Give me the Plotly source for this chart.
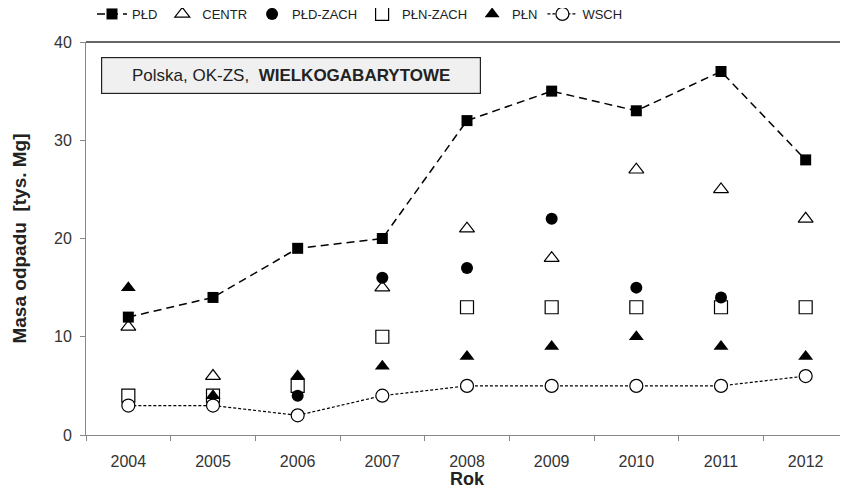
import plotly.graph_objects as go

years = ["2004", "2005", "2006", "2007", "2008", "2009", "2010", "2011", "2012"]
pld = [12, 14, 19, 20, 32, 35, 33, 37, 28]
centr = [11, 6, None, 15, 21, 18, 27, 25, 22]
pld_zach = [None, None, 4, 16, 17, 22, 15, 14, None]
pln_zach = [4, 4, 5, 10, 13, 13, 13, 13, 13]
pln = [15, 4, 6, 7, 8, 9, 10, 9, 8]
wsch = [3, 3, 2, 4, 5, 5, 5, 5, 6]

# page body has an 8px margin, so the figure is drawn 8px right/down
W, H = 840, 481
L, R, T, B = 78, 0, 34, 54

fig = go.Figure()
fig.add_trace(go.Scatter(x=years, y=pld, name="PŁD", mode="lines+markers",
                         line=dict(color="black", width=1.5, dash="8px,5px"),
                         marker=dict(symbol="square", size=11, color="black")))
fig.add_trace(go.Scatter(x=years, y=centr, name="CENTR", mode="markers",
                         marker=dict(symbol="triangle-up-open", size=13, color="black",
                                     line=dict(width=1.2))))
fig.add_trace(go.Scatter(x=years, y=pld_zach, name="PŁD-ZACH", mode="markers",
                         marker=dict(symbol="circle", size=12, color="black")))
fig.add_trace(go.Scatter(x=years, y=pln_zach, name="PŁN-ZACH", mode="markers",
                         marker=dict(symbol="square-open", size=13, color="black",
                                     line=dict(width=1.2))))
fig.add_trace(go.Scatter(x=years, y=pln, name="PŁN", mode="markers",
                         marker=dict(symbol="triangle-up", size=13, color="black")))
fig.add_trace(go.Scatter(x=years, y=wsch, name="WSCH", mode="lines+markers",
                         line=dict(color="black", width=1.2, dash="3px,2px"),
                         marker=dict(symbol="circle", size=13, color="white",
                                     line=dict(color="black", width=1.2))))

font_main = "Liberation Sans, Arial, sans-serif"

fig.update_layout(
    width=W, height=H,
    margin=dict(l=L, r=R, t=T, b=B, autoexpand=False),
    paper_bgcolor="white", plot_bgcolor="white",
    font=dict(family=font_main, size=15, color="#333"),
    showlegend=True,
    legend=dict(orientation="h", xref="container", yref="container",
                x=84 / W, y=1 - 6 / H, xanchor="left", yanchor="middle",
                font=dict(family=font_main, size=13, color="#222"),
                itemwidth=30, tracegroupgap=0, bgcolor="rgba(0,0,0,0)"),
    xaxis=dict(type="category", range=[-0.5, 8.5], showline=True, linecolor="#888",
               linewidth=1, ticks="outside", tickson="boundaries", ticklen=5,
               tickcolor="#888", showgrid=False, zeroline=False, automargin=False,
               ticklabelstandoff=12,
               tickfont=dict(size=16, color="#333"),
               title=dict(text="<b>Rok</b>", font=dict(size=18, color="#222"), standoff=2)),
    yaxis=dict(range=[0, 40], tickvals=[0, 10, 20, 30, 40], showline=True,
               linecolor="#888", linewidth=1, ticks="outside", ticklen=5,
               tickcolor="#888", showgrid=False, zeroline=False, automargin=False,
               ticklabelstandoff=5,
               tickfont=dict(size=16, color="#333"),
               title=dict(text="<b>Masa odpadu  [tys. Mg]</b>",
                          font=dict(size=19, color="#222"), standoff=22)),
)

fig.add_shape(type="line", xref="paper", yref="paper", x0=0, x1=1, y0=1, y1=1,
              line=dict(color="#333", width=1.5))

PW, PH = W - L - R, H - T - B
fig.add_annotation(xref="paper", yref="paper",
                   x=(283 - L) / PW, y=(PH - (67 - T)) / PH,
                   xanchor="center", yanchor="middle",
                   text="Polska, OK-ZS,  <b>WIELKOGABARYTOWE</b>",
                   showarrow=False, font=dict(size=17, color="#222", family=font_main),
                   bgcolor="#f0f0f0", bordercolor="#222", borderwidth=1.2,
                   width=376, height=33, borderpad=1)

fig.write_html("out.html")
